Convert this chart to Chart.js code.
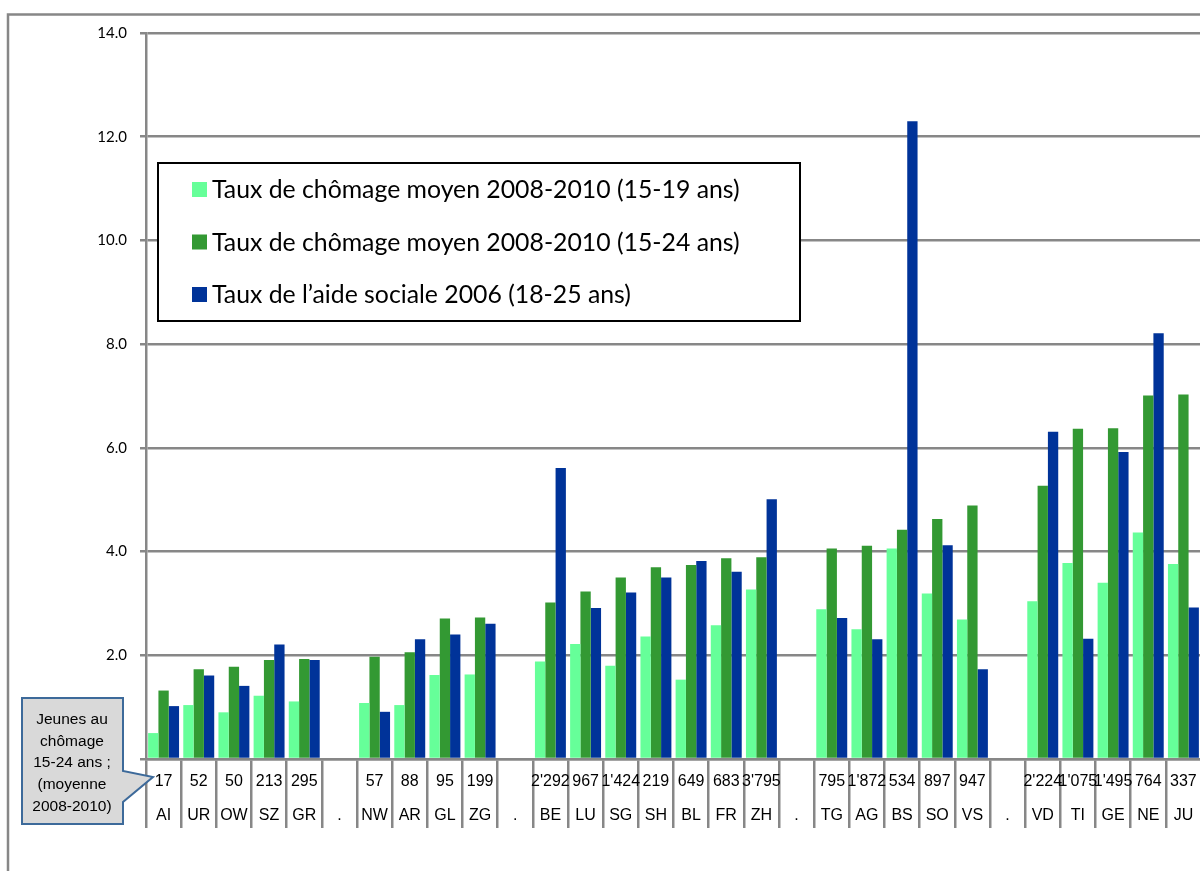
<!DOCTYPE html>
<html><head><meta charset="utf-8">
<script src="https://cdn.jsdelivr.net/npm/chart.js@4/dist/chart.umd.min.js"></script>
<style>html,body{margin:0;padding:0;overflow:hidden;background:#fff;width:1200px;height:871px}canvas{position:absolute;left:0;top:0}</style>
</head><body><canvas id="c" width="1220" height="871"></canvas>
<script>
const cantons = ['AI','UR','OW','SZ','GR','.','NW','AR','GL','ZG','.','BE','LU','SG','SH','BL','FR','ZH','.','TG','AG','BS','SO','VS','.','VD','TI','GE','NE','JU'];
const youthCounts = ['17','52','50','213','295','','57','88','95','199','',"2'292",'967',"1'424",'219','649','683',"3'795",'','795',"1'872",'534','897','947','',"2'224","1'075","1'495",'764','337'];
const rate15to19 = [0.50,1.04,0.90,1.22,1.11,null,1.08,1.04,1.62,1.63,null,1.88,2.22,1.80,2.36,1.53,2.58,3.27,null,2.89,2.50,4.06,3.19,2.69,null,3.04,3.78,3.40,4.37,3.76];
const rate15to24 = [1.32,1.73,1.78,1.91,1.93,null,1.97,2.06,2.71,2.73,null,3.02,3.23,3.50,3.70,3.74,3.87,3.89,null,4.06,4.11,4.42,4.63,4.89,null,5.27,6.37,6.38,7.01,7.03];
const socialAid = [1.02,1.61,1.41,2.21,1.91,null,0.91,2.31,2.40,2.61,null,5.61,2.91,3.21,3.50,3.82,3.61,5.01,null,2.72,2.31,12.30,4.12,1.73,null,6.31,2.32,5.92,8.21,2.92];
const seriesNames = ['Taux de chômage moyen 2008-2010 (15-19 ans)','Taux de chômage moyen 2008-2010 (15-24 ans)','Taux de l\u2019aide sociale 2006 (18-25 ans)'];
const seriesColors = ['#66FF99','#339933','#003399'];
const yMin = 0, yMax = 14, yStep = 2;
const calloutLines = ['Jeunes au','chômage','15-24 ans ;','(moyenne','2008-2010)'];

const GRID = '#878787';
const labels = cantons.map((c,i)=>[youthCounts[i], c]);

const framePlugin = {
  id:'frame',
  beforeDraw(chart){
    const ctx = chart.ctx;
    ctx.save();
    ctx.fillStyle='#fff';
    ctx.fillRect(0,0,chart.width,chart.height);
    ctx.strokeStyle=GRID; ctx.lineWidth=2.5;
    ctx.strokeRect(8,14.5,1300,1000);
    ctx.restore();
  }
};

const overlayPlugin = {
  id:'overlay',
  afterDraw(chart){
    const ctx = chart.ctx;
    ctx.save();
    // legend box
    const lx=158, ly=163, lw=642, lh=158;
    ctx.fillStyle='#fff'; ctx.fillRect(lx,ly,lw,lh);
    ctx.strokeStyle='#000'; ctx.lineWidth=2; ctx.strokeRect(lx,ly,lw,lh);
    ctx.font='24.8px Lato'; ctx.textBaseline='middle'; ctx.textAlign='left';
    chart.data.datasets.forEach((ds,i)=>{
      const cy = 189.5 + i*52.5;
      ctx.fillStyle=ds.backgroundColor;
      ctx.fillRect(192,cy-7.5,15,15);
      ctx.fillStyle='#000';
      ctx.fillText(ds.label,212,cy+1);
    });
    // callout
    const x0=22,y0=698,x1=123,y1=824;
    ctx.beginPath();
    ctx.moveTo(x0,y0); ctx.lineTo(x1,y0); ctx.lineTo(x1,771);
    ctx.lineTo(153,777); ctx.lineTo(x1,802); ctx.lineTo(x1,y1); ctx.lineTo(x0,y1); ctx.closePath();
    ctx.fillStyle='#D9D9D9'; ctx.fill();
    ctx.strokeStyle='#3D6A9A'; ctx.lineWidth=2; ctx.stroke();
    ctx.fillStyle='#000'; ctx.font='15.5px "Liberation Sans"'; ctx.textAlign='center';
    calloutLines.forEach((t,i)=>ctx.fillText(t,72,720+i*21.6));
    ctx.restore();
  }
};

new Chart(document.getElementById('c'),{
  type:'bar',
  data:{labels, datasets:[
    {label:seriesNames[0], data:rate15to19, backgroundColor:seriesColors[0]},
    {label:seriesNames[1], data:rate15to24, backgroundColor:seriesColors[1]},
    {label:seriesNames[2], data:socialAid, backgroundColor:seriesColors[2]}
  ]},
  options:{
    responsive:false, animation:false,
    layout:{padding:{top:33,right:19,left:0,bottom:0}},
    datasets:{bar:{categoryPercentage:0.88,barPercentage:1.0,borderWidth:0}},
    plugins:{legend:{display:false},tooltip:{enabled:false}},
    scales:{
      x:{
        grid:{offset:true,drawOnChartArea:false,drawTicks:true,tickLength:69,color:GRID,lineWidth:2.5},
        border:{color:GRID,width:2.5},
        ticks:{autoSkip:false,maxRotation:0,minRotation:0,padding:-63,color:'#000',
          font:{family:'"Liberation Sans"',size:16,lineHeight:2.125}},
        afterFit(s){s.height=112;}
      },
      y:{
        min:yMin,max:yMax,
        grid:{color:GRID,lineWidth:2.5,tickLength:6},
        border:{color:GRID,width:2.5},
        ticks:{stepSize:yStep,padding:13,color:'#000',font:{family:'Lato',size:15},
          callback:v=>v===yMin?'':Number(v).toFixed(1)},
        afterFit(s){s.width=146;}
      }
    }
  },
  plugins:[framePlugin,overlayPlugin]
});
</script></body></html>
